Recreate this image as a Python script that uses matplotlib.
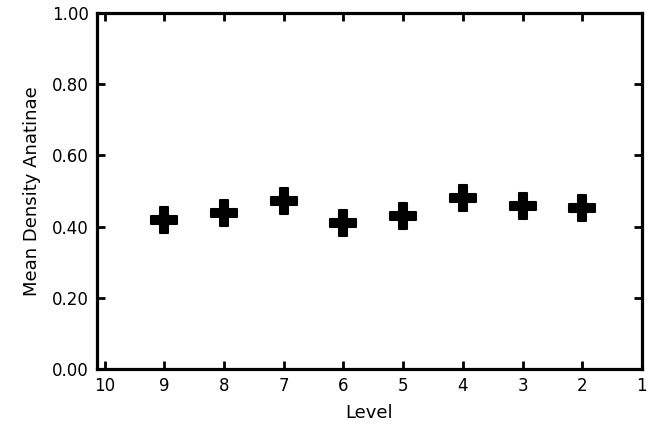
import matplotlib
matplotlib.use("Agg")
import matplotlib.pyplot as plt
from matplotlib.markers import MarkerStyle

# Mean density per level
levels = [9, 8, 7, 6, 5, 4, 3, 2]
density = [0.419, 0.437, 0.473, 0.409, 0.431, 0.479, 0.459, 0.451]

x_ticks = [10, 9, 8, 7, 6, 5, 4, 3, 2, 1]
y_ticks = [0.0, 0.2, 0.4, 0.6, 0.8, 1.0]

plt.rcParams['font.family'] = ['DejaVu Sans']

fig = plt.figure(figsize=(6.55, 4.32), dpi=100)
ax = fig.add_axes([0.148, 0.146, 0.832, 0.824])

# filled plus markers with rounded corners
plus = MarkerStyle('P', joinstyle='round')
ax.plot(levels, density, linestyle='none', marker=plus, color='black',
        markersize=19, markeredgewidth=1.5)

ax.set_xlim(10.13, 1)
ax.set_ylim(0, 1)
ax.set_xticks(x_ticks)
ax.set_xticklabels([str(v) for v in x_ticks])
ax.set_yticks(y_ticks)
ax.set_yticklabels(['%.2f' % v for v in y_ticks])

for s in ax.spines.values():
    s.set_linewidth(2.3)
ax.tick_params(direction='in', length=6, width=2, labelsize=12,
               top=True, right=True, pad=6)

ax.set_xlabel('Level', fontsize=13, labelpad=6)
ax.set_ylabel('Mean Density Anatinae', fontsize=13, labelpad=8)

fig.savefig('out.png', dpi=100)
